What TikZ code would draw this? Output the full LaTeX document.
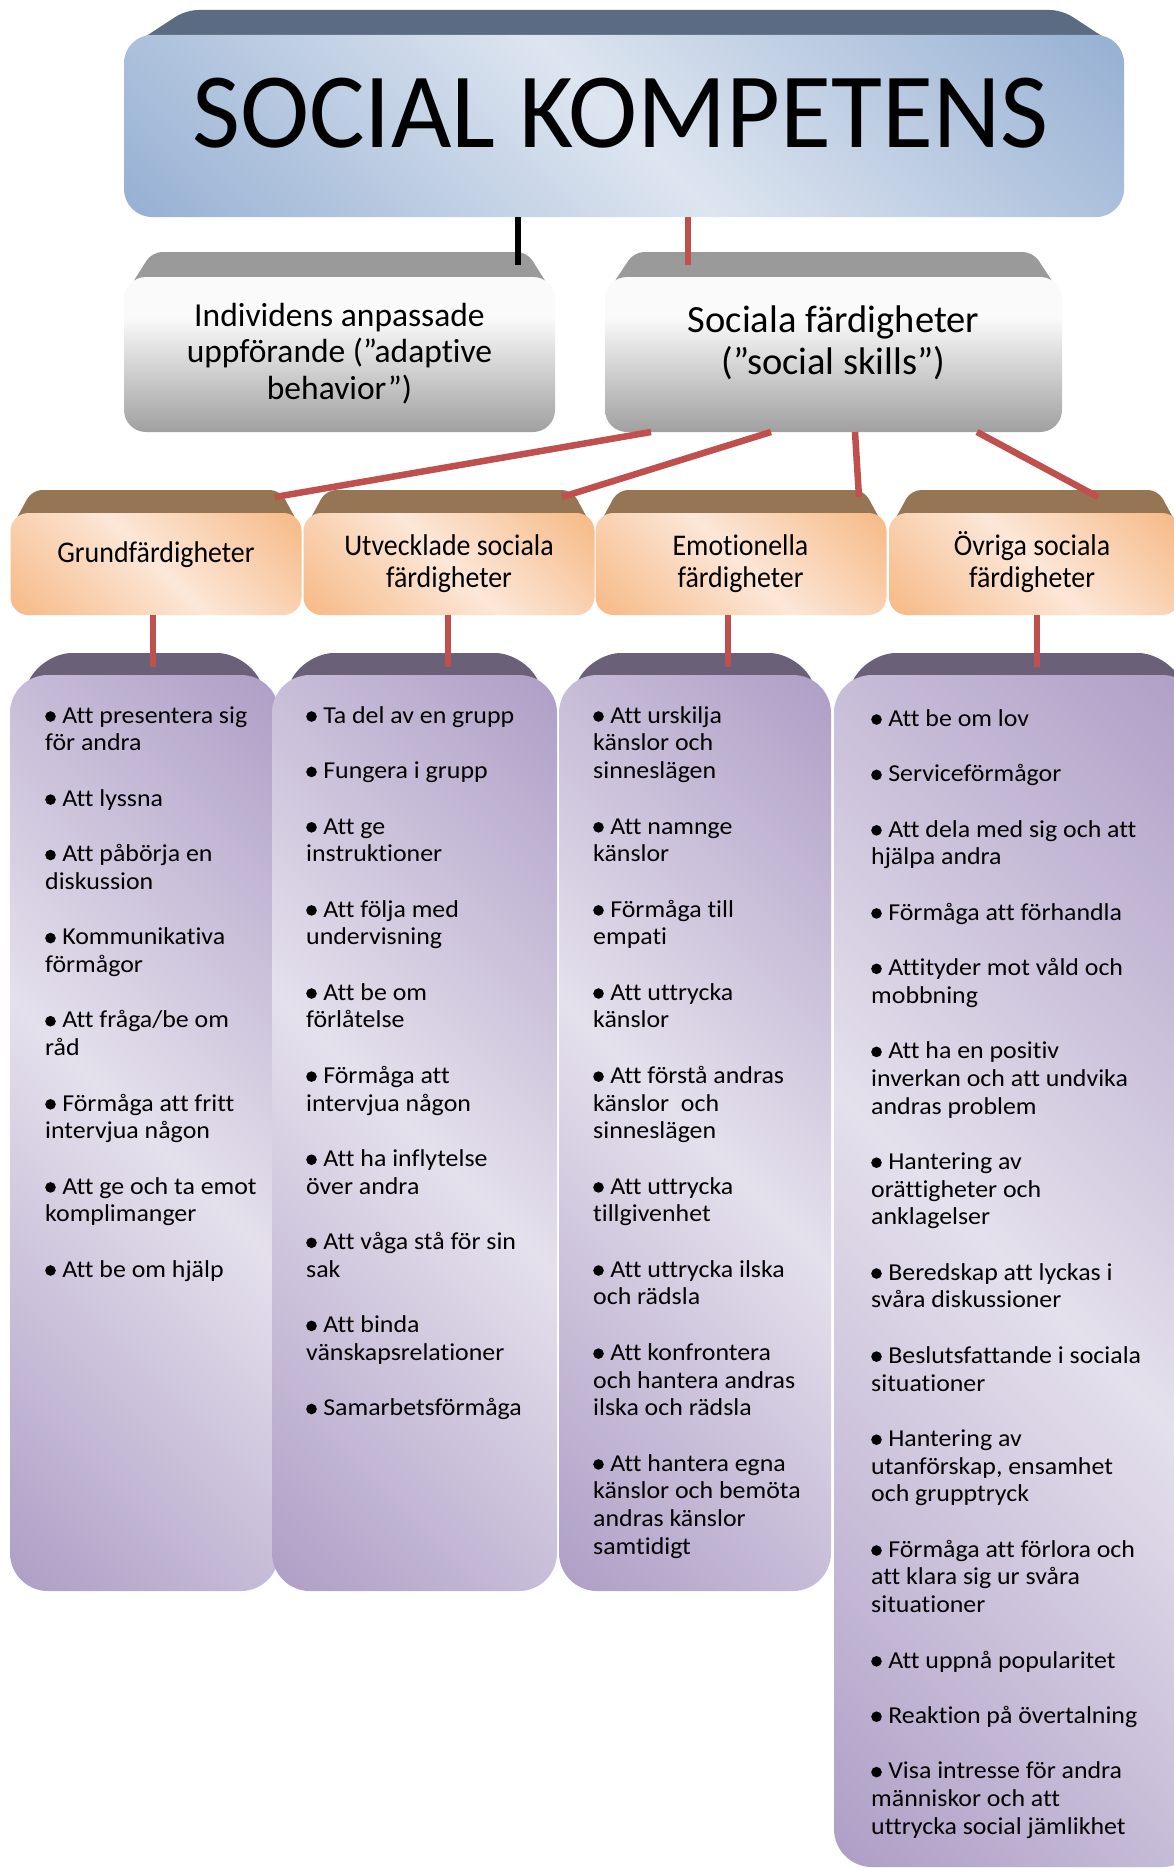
\documentclass[tikz,border=0pt]{standalone}
\usepackage{fontspec}
\setmainfont[Ligatures=NoCommon]{Carlito}
\newfontfamily\itemfont[FakeStretch=1.065, Ligatures=NoCommon]{Carlito}
\newfontfamily\catfont[FakeStretch=0.93, Ligatures=NoCommon]{Carlito}
\newfontfamily\titlefont[FakeStretch=0.975, Ligatures=NoCommon]{Carlito}
\usetikzlibrary{calc}

% palette
\definecolor{redline}{HTML}{C0504D}
\definecolor{titletop}{HTML}{5B6B82}
\definecolor{titlelight}{HTML}{DDE5F0}
\definecolor{titledark}{HTML}{96B0D3}
\definecolor{graytop}{HTML}{9A9A9A}
\definecolor{graylight}{HTML}{FAFAFA}
\definecolor{graydark}{HTML}{A0A0A0}
\definecolor{orangetop}{HTML}{957553}
\definecolor{orangelight}{HTML}{FCE7D8}
\definecolor{orangedark}{HTML}{F6B985}
\definecolor{purpletop}{HTML}{6A6078}
\definecolor{purplelight}{HTML}{E4E0EC}
\definecolor{purpledark}{HTML}{AE9EC6}

% diagonal face shadings: dark corners bottom-left / top-right, light band across
\pgfdeclarehorizontalshading{titlediag}{100bp}{color(0bp)=(titledark); color(14.6bp)=(titledark); color(50bp)=(titlelight); color(85.4bp)=(titledark); color(100bp)=(titledark)}
\pgfdeclarehorizontalshading{orangediag}{100bp}{color(0bp)=(orangedark); color(14.6bp)=(orangedark); color(50bp)=(orangelight); color(85.4bp)=(orangedark); color(100bp)=(orangedark)}
\pgfdeclarehorizontalshading{purplediag}{100bp}{color(0bp)=(purpledark); color(14.6bp)=(purpledark); color(50bp)=(purplelight); color(85.4bp)=(purpledark); color(100bp)=(purpledark)}
\pgfdeclareverticalshading{grayvert}{100bp}{color(0bp)=(graydark); color(25bp)=(graydark); color(62bp)=(graylight); color(100bp)=(graylight)}

% list bullet and first-line strut
\newcommand\blt{\tikz[baseline=0pt]\fill (5.3pt,6.7pt) circle (5.3pt);\hspace{6.5pt}}
\newcommand\topline[1]{\rule{0pt}{#1}}

% slanted top face of a bevelled box: x1, x2, ytop, ybottom, inset, colour, radius
\newcommand\slab[7]{\fill[#6, rounded corners=#7] ({#1+3},#4) -- ({#1+#5},#3) -- ({#2-#5},#3) -- ({#2-3},#4) -- cycle;}

\tikzset{
  face/.style={inner sep=0pt, outer sep=0pt, draw=none},
  titleface/.style={face, shade, shading=titlediag, shading angle=45, rounded corners=28pt},
  grayface/.style={face, shade, shading=grayvert, rounded corners=22pt},
  catface/.style={face, shade, shading=orangediag, shading angle=45, rounded corners=18pt,
    minimum width=291pt, minimum height=102pt},
  colface/.style={face, shade, shading=purplediag, shading angle=45, rounded corners=38pt},
  titletext/.style={inner sep=0pt, font=\titlefont\fontsize{107}{110}\selectfont},
  graytext/.style={inner sep=0pt, align=center, font=\fontsize{33.5}{36.5}\selectfont},
  socialtext/.style={inner sep=0pt, align=center, font=\fontsize{38.5}{42}\selectfont},
  cattext/.style={inner sep=0pt, align=center, font=\catfont\fontsize{30}{32}\selectfont},
  listtext/.style={inner sep=0pt, align=left, anchor=north west, font=\itemfont\fontsize{24.3}{27.7}\selectfont},
  redconn/.style={draw=redline, line width=6.5pt},
  blackconn/.style={draw=black, line width=5.5pt},
}

\begin{document}
\begin{tikzpicture}[x=1pt, y=-1pt]
\useasboundingbox (0,0) rectangle (1174,1868);
\clip (0,0) rectangle (1174,1868);
\fill[white] (0,0) rectangle (1174,1868);

% ---------- top level ----------
\slab{125}{1123}{10}{48}{61}{titletop}{12pt}
\node[titleface, minimum width=1000pt, minimum height=182pt] (title) at (624,126) {};
\node[titletext, anchor=base] (titlelabel) at (620.5,147) {SOCIAL KOMPETENS};

% ---------- second level ----------
\slab{125}{554}{252}{290}{27}{graytop}{10pt}
\node[grayface, minimum width=431pt, minimum height=155pt] (ind) at (339.5,354.5) {};
\node[graytext, anchor=north] (indlabel) at (339.5,296) {\topline{30pt}Individens anpassade\\uppförande (”adaptive\\behavior”)};

\slab{606}{1061}{252}{290}{28}{graytop}{10pt}
\node[grayface, minimum width=457pt, minimum height=155pt] (soc) at (833.5,354.5) {};
\node[socialtext, anchor=north] (soclabel) at (833.5,298) {\topline{34pt}Sociala färdigheter\\(”social skills”)};

% ---------- categories ----------
\slab{10}{302}{490}{525}{22}{orangetop}{10pt}
\slab{304}{594}{490}{525}{22}{orangetop}{10pt}
\slab{596}{886}{490}{525}{22}{orangetop}{10pt}
\slab{889}{1180}{490}{525}{22}{orangetop}{10pt}
\node[catface] (cat1) at (156,564) {};
\node[catface] (cat2) at (449,564) {};
\node[catface] (cat3) at (741,564) {};
\node[catface] (cat4) at (1034.5,564) {};
\node[cattext, anchor=base] (cat1label) at (156,562) {Grundfärdigheter};
\node[cattext, anchor=north] (cat2label) at (449,525) {\topline{30pt}Utvecklade sociala\\färdigheter};
\node[cattext, anchor=north] (cat3label) at (740.5,525) {\topline{30pt}Emotionella\\färdigheter};
\node[cattext, anchor=north] (cat4label) at (1032,525) {\topline{30pt}Övriga sociala\\färdigheter};

% ---------- item columns ----------
\slab{10}{279}{653}{715}{32}{purpletop}{30pt}
\node[colface, minimum width=269pt, minimum height=916pt] (col1) at (144.5,1133) {};
\slab{272}{557}{653}{715}{32}{purpletop}{30pt}
\node[colface, minimum width=285pt, minimum height=916pt] (col2) at (414.5,1133) {};
\slab{559}{831}{653}{715}{32}{purpletop}{30pt}
\node[colface, minimum width=272pt, minimum height=916pt] (col3) at (695,1133) {};
\slab{834}{1200}{653}{715}{32}{purpletop}{30pt}
\node[colface, minimum width=366pt, minimum height=1192pt] (col4) at (1017,1271) {};

\node[listtext] (list1) at (45,701) {\topline{22pt}\blt Att presentera sig\\för andra\\[27.7pt]
\blt Att lyssna\\[27.7pt]
\blt Att påbörja en\\diskussion\\[27.7pt]
\blt Kommunikativa\\förmågor\\[27.7pt]
\blt Att fråga/be om\\råd\\[27.7pt]
\blt Förmåga att fritt\\intervjua någon\\[27.7pt]
\blt Att ge och ta emot\\komplimanger\\[27.7pt]
\blt Att be om hjälp};

\node[listtext] (list2) at (306,701) {\topline{22pt}\blt Ta del av en grupp\\[27.7pt]
\blt Fungera i grupp\\[27.7pt]
\blt Att ge\\instruktioner\\[27.7pt]
\blt Att följa med\\undervisning\\[27.7pt]
\blt Att be om\\förlåtelse\\[27.7pt]
\blt Förmåga att\\intervjua någon\\[27.7pt]
\blt Att ha inflytelse\\över andra\\[27.7pt]
\blt Att våga stå för sin\\sak\\[27.7pt]
\blt Att binda\\vänskapsrelationer\\[27.7pt]
\blt Samarbetsförmåga};

\node[listtext] (list3) at (593,701) {\topline{22pt}\blt Att urskilja\\känslor och\\sinneslägen\\[27.7pt]
\blt Att namnge\\känslor\\[27.7pt]
\blt Förmåga till\\empati\\[27.7pt]
\blt Att uttrycka\\känslor\\[27.7pt]
\blt Att förstå andras\\känslor\ \ och\\sinneslägen\\[27.7pt]
\blt Att uttrycka\\tillgivenhet\\[27.7pt]
\blt Att uttrycka ilska\\och rädsla\\[27.7pt]
\blt Att konfrontera\\och hantera andras\\ilska och rädsla\\[27.7pt]
\blt Att hantera egna\\känslor och bemöta\\andras känslor\\samtidigt};

\node[listtext] (list4) at (871,704) {\topline{22pt}\blt Att be om lov\\[27.7pt]
\blt Serviceförmågor\\[27.7pt]
\blt Att dela med sig och att\\hjälpa andra\\[27.7pt]
\blt Förmåga att förhandla\\[27.7pt]
\blt Attityder mot våld och\\mobbning\\[27.7pt]
\blt Att ha en positiv\\inverkan och att undvika\\andras problem\\[27.7pt]
\blt Hantering av\\orättigheter och\\anklagelser\\[27.7pt]
\blt Beredskap att lyckas i\\svåra diskussioner\\[27.7pt]
\blt Beslutsfattande i sociala\\situationer\\[27.7pt]
\blt Hantering av\\utanförskap, ensamhet\\och grupptryck\\[27.7pt]
\blt Förmåga att förlora och\\att klara sig ur svåra\\situationer\\[27.7pt]
\blt Att uppnå popularitet\\[27.7pt]
\blt Reaktion på övertalning\\[27.7pt]
\blt Visa intresse för andra\\människor och att\\uttrycka social jämlikhet};

% ---------- connectors ----------
\coordinate (indtop) at (518,265);
\coordinate (soctop) at (688,265);
\coordinate (cat1in) at (275,497);
\coordinate (cat2in) at (562,497);
\coordinate (cat3in) at (859,497);
\coordinate (cat4in) at (1098,497);
\coordinate (colin) at (0,667);

\draw[blackconn] (indtop |- title.south) -- (indtop);
\draw[redconn] (soctop |- title.south) -- (soctop);

\draw[redconn] ([xshift=46pt]soc.south west) -- (cat1in);
\draw[redconn] ([xshift=166pt]soc.south west) -- (cat2in);
\draw[redconn] ([xshift=250pt]soc.south west) -- (cat3in);
\draw[redconn] ([xshift=372pt]soc.south west) -- (cat4in);

\draw[redconn] ([xshift=-3pt]cat1.south) -- ([xshift=-3pt]cat1.south |- colin);
\draw[redconn] ([xshift=-1pt]cat2.south) -- ([xshift=-1pt]cat2.south |- colin);
\draw[redconn] ([xshift=-13pt]cat3.south) -- ([xshift=-13pt]cat3.south |- colin);
\draw[redconn] ([xshift=2.5pt]cat4.south) -- ([xshift=2.5pt]cat4.south |- colin);
\end{tikzpicture}
\end{document}
